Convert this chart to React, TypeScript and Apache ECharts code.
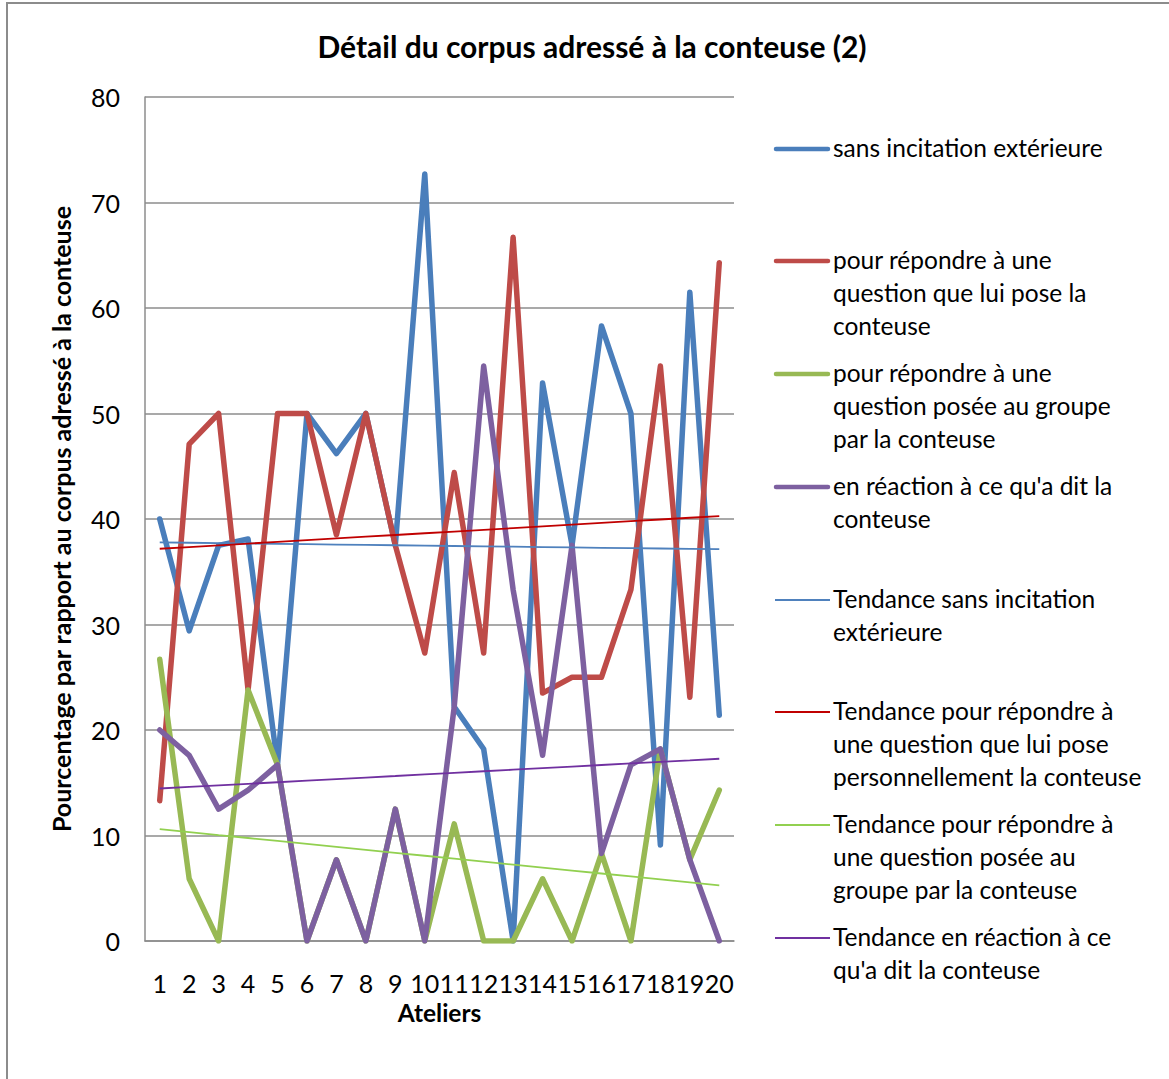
import React, { useEffect, useRef } from "react";
import * as echarts from "echarts";

const ateliers = ["1","2","3","4","5","6","7","8","9","10","11","12","13","14","15","16","17","18","19","20"];
const yTicks = [0, 10, 20, 30, 40, 50, 60, 70, 80];

const sansIncitation = [40, 29.4, 37.5, 38.1, 16.7, 50, 46.2, 50, 37.5, 72.7, 22.2, 18.2, 0, 52.9, 37.5, 58.3, 50, 9.1, 61.5, 21.4];
const questionPerso = [13.3, 47.1, 50, 23.8, 50, 50, 38.5, 50, 37.5, 27.3, 44.4, 27.3, 66.7, 23.5, 25, 25, 33.3, 54.5, 23.1, 64.3];
const questionGroupe = [26.7, 5.9, 0, 23.8, 16.7, 0, 7.7, 0, 12.5, 0, 11.1, 0, 0, 5.9, 0, 8.3, 0, 18.2, 7.7, 14.3];
const reaction = [20, 17.6, 12.5, 14.3, 16.7, 0, 7.7, 0, 12.5, 0, 22.2, 54.5, 33.3, 17.6, 37.5, 8.3, 16.7, 18.2, 7.7, 0];

const seriesNames = [
  "sans incitation extérieure",
  "pour répondre à une question que lui pose la conteuse",
  "pour répondre à une question posée au groupe par la conteuse",
  "en réaction à ce qu'a dit la conteuse",
  "Tendance sans incitation extérieure",
  "Tendance pour répondre à une question que lui pose personnellement la conteuse",
  "Tendance pour répondre à une question posée au groupe par la conteuse",
  "Tendance en réaction à ce qu'a dit la conteuse",
];
const legendLabels = [
  "sans incitation extérieure",
  "pour répondre à une\nquestion que lui pose la\nconteuse",
  "pour répondre à une\nquestion posée au groupe\npar la conteuse",
  "en réaction à ce qu'a dit la\nconteuse",
  "Tendance sans incitation\nextérieure",
  "Tendance pour répondre à\nune question que lui pose\npersonnellement la conteuse",
  "Tendance pour répondre à\nune question posée au\ngroupe par la conteuse",
  "Tendance en réaction à ce\nqu'a dit la conteuse",
];
const mainColors = ["#4a7ebb", "#be4b48", "#98b954", "#7d60a0"];
const trendColors = ["#4f81bd", "#c00000", "#92d050", "#7030a0"];

// least-squares linear trend (as computed by the spreadsheet trendline)
function trend(arr: number[]): number[] {
  const n = arr.length;
  const xs = arr.map((_, i) => i + 1);
  const mx = xs.reduce((a, b) => a + b, 0) / n;
  const my = arr.reduce((a, b) => a + b, 0) / n;
  let sxy = 0, sxx = 0;
  for (let i = 0; i < n; i++) {
    sxy += (xs[i] - mx) * (arr[i] - my);
    sxx += (xs[i] - mx) * (xs[i] - mx);
  }
  const b = sxy / sxx;
  const a = my - b * mx;
  return xs.map((x) => +(a + b * x).toFixed(3));
}

const FONT = "Lato";
const MAIN_W = 5.5;
const TREND_W = 1.8;

export default function App() {
  const ref = useRef<HTMLDivElement>(null);
  useEffect(() => {
    document.body.style.margin = "0";
    const chart = echarts.init(ref.current!, null, { renderer: "svg" });
    const mains = [sansIncitation, questionPerso, questionGroupe, reaction];
    const series: any[] = [];
    mains.forEach((d, i) => {
      series.push({
        name: seriesNames[i],
        type: "line",
        data: d,
        symbol: "none",
        lineStyle: { color: mainColors[i], width: MAIN_W, cap: "round", join: "round" },
        itemStyle: { color: mainColors[i] },
        z: 2,
      });
    });
    mains.forEach((d, i) => {
      series.push({
        name: seriesNames[4 + i],
        type: "line",
        data: trend(d),
        symbol: "none",
        lineStyle: { color: trendColors[i], width: TREND_W },
        itemStyle: { color: trendColors[i] },
        z: 3,
      });
    });
    const firstLineY = [149, 261, 374, 487, 600, 712, 825, 938];
    const LH = 33;
    const legendGraphics: any[] = legendLabels.map((lab, i) => {
      const isMain = i < 4;
      const color = isMain ? mainColors[i] : trendColors[i - 4];
      return {
        type: "group",
        silent: true,
        children: [
          {
            type: "line",
            shape: { x1: isMain ? 776 : 775, y1: firstLineY[i], x2: isMain ? 828 : 830, y2: firstLineY[i] },
            style: { stroke: color, lineWidth: isMain ? 4.5 : TREND_W, lineCap: isMain ? "round" : "butt" },
          },
          {
            type: "text",
            x: 833,
            y: firstLineY[i] - LH / 2 - 2,
            style: {
              text: lab,
              fontFamily: FONT,
              fontSize: 24.5,
              lineHeight: LH,
              fill: "#000",
              align: "left",
              verticalAlign: "top",
            },
          },
        ],
      };
    });
    chart.setOption({
      animation: false,
      backgroundColor: "#fff",
      title: {
        text: "Détail du corpus adressé à la conteuse (2)",
        left: 587,
        top: 26,
        textAlign: "center",
        textStyle: { fontFamily: FONT, fontSize: 30, fontWeight: "bold", color: "#000" },
      },
      graphic: [
        {
          type: "rect",
          silent: true,
          shape: { x: 7, y: 3, width: 1200, height: 1120 },
          style: { fill: "none", stroke: "#8c8c8c", lineWidth: 2 },
        },
        ...legendGraphics,
      ],
      grid: { left: 145, right: 435, top: 97, bottom: 138 },
      xAxis: {
        type: "category",
        data: ateliers,
        boundaryGap: true,
        name: "Ateliers",
        nameLocation: "middle",
        nameGap: 58,
        nameTextStyle: { fontFamily: FONT, fontSize: 24.5, fontWeight: "bold", color: "#000" },
        axisLine: { lineStyle: { color: "#8c8c8c", width: 1.5 } },
        axisTick: { show: false },
        axisLabel: { interval: 0, margin: 29, fontFamily: FONT, fontSize: 25, color: "#000" },
      },
      yAxis: {
        type: "value",
        min: yTicks[0],
        max: yTicks[yTicks.length - 1],
        interval: 10,
        name: "Pourcentage par rapport au corpus adressé à la conteuse",
        nameLocation: "middle",
        nameGap: 72,
        nameTextStyle: { fontFamily: FONT, fontSize: 25, fontWeight: "bold", color: "#000" },
        axisLine: { show: true, lineStyle: { color: "#8c8c8c", width: 1.5 } },
        axisTick: { show: false },
        axisLabel: { margin: 25, fontFamily: FONT, fontSize: 25, color: "#000" },
        splitLine: { lineStyle: { color: "#8c8c8c", width: 1.5 } },
      },
      series,
    });
    return () => chart.dispose();
  }, []);
  return <div ref={ref} style={{ width: 1169, height: 1079 }} />;
}
